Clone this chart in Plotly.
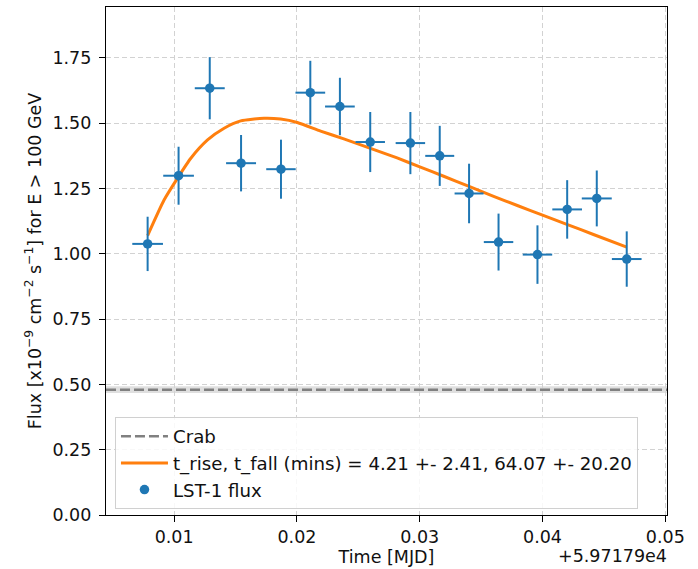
import plotly.graph_objects as go

# LST-1 light curve, times relative to MJD 59717.9
MJD_OFFSET_LABEL = "+5.97179e4"
t_rel = [0.00784, 0.01036, 0.01290, 0.01545, 0.01870, 0.02109, 0.02350, 0.02597,
         0.02924, 0.03163, 0.03402, 0.03642, 0.03959, 0.04201, 0.04442, 0.04686]
t_err = [0.00125, 0.00125, 0.00122, 0.00122, 0.00120, 0.00121, 0.00121, 0.00120,
         0.00120, 0.00118, 0.00118, 0.00120, 0.00120, 0.00121, 0.00122, 0.00121]
flux = [1.038, 1.299, 1.634, 1.347, 1.324, 1.617, 1.564, 1.428,
        1.424, 1.375, 1.231, 1.045, 0.997, 1.170, 1.212, 0.980]
flux_err = [0.104, 0.111, 0.119, 0.108, 0.113, 0.122, 0.110, 0.115,
            0.119, 0.115, 0.114, 0.109, 0.112, 0.112, 0.107, 0.106]

# rise/fall fit curve
fit_t = [0.00784, 0.00919, 0.01028, 0.01136, 0.01272, 0.01407, 0.01542, 0.01732,
         0.01867, 0.02003, 0.02193, 0.02382, 0.02599, 0.02816, 0.03006, 0.03195,
         0.03412, 0.03602, 0.03800, 0.03995, 0.04198, 0.04415, 0.04686]
fit_flux = [1.070, 1.207, 1.290, 1.366, 1.436, 1.481, 1.509, 1.519,
            1.516, 1.503, 1.470, 1.440, 1.404, 1.367, 1.332, 1.297,
            1.256, 1.220, 1.184, 1.149, 1.113, 1.074, 1.026]
fit_label = "t_rise, t_fall (mins) = 4.21 +- 2.41, 64.07 +- 20.20"

# Crab reference flux
crab_flux = 0.48
crab_err = 0.0128

x_range = [0.00445, 0.05014]
y_range = [0.0, 1.945]
x_ticks = [0.01, 0.02, 0.03, 0.04, 0.05]
y_ticks = [0.0, 0.25, 0.5, 0.75, 1.0, 1.25, 1.5, 1.75]

BLUE = "#1f77b4"
ORANGE = "#ff7f0e"
FONT = "DejaVu Sans"
FS = 17.5
LEG_FS = 18.2
TXT = "#111111"

fig = go.Figure()

fig.add_trace(go.Scatter(
    x=x_range, y=[crab_flux, crab_flux], mode="lines",
    line=dict(color="#808080", width=2.5, dash="10px,4px"),
    name="Crab", legendgroup="a", hoverinfo="skip",
))
fig.add_trace(go.Scatter(
    x=fit_t, y=fit_flux, mode="lines",
    line=dict(color=ORANGE, width=3, shape="spline", smoothing=0.6),
    name=fit_label, legendgroup="b",
))
fig.add_trace(go.Scatter(
    x=t_rel, y=flux, mode="markers",
    marker=dict(color=BLUE, size=9.5),
    error_y=dict(type="data", array=flux_err, color=BLUE, thickness=2, width=0),
    error_x=dict(type="data", array=t_err, color=BLUE, thickness=2, width=0),
    name="LST-1 flux", legendgroup="c",
))

fig.add_shape(
    type="rect", xref="x domain", x0=0, x1=1, yref="y",
    y0=crab_flux - crab_err, y1=crab_flux + crab_err,
    fillcolor="rgba(128,128,128,0.25)", line=dict(width=0), layer="below",
)

fig.add_annotation(
    text=MJD_OFFSET_LABEL, xref="paper", yref="paper", x=1.003, y=-0.058,
    xanchor="right", yanchor="top", showarrow=False,
    font=dict(family=FONT, size=FS, color=TXT),
)

axis_common = dict(
    showline=True, linecolor="black", linewidth=1.3, mirror=True,
    ticks="outside", ticklen=6, tickwidth=1.2, tickcolor="black",
    showgrid=True, gridcolor="#d2d2d2", griddash="5px,3px", gridwidth=1,
    zeroline=False, tickfont=dict(family=FONT, size=FS, color=TXT),
)

fig.update_xaxes(
    range=x_range, tickvals=x_ticks, ticktext=[f"{v:.2f}" for v in x_ticks],
    title=dict(text="Time [MJD]", font=dict(family=FONT, size=FS, color=TXT), standoff=2),
    **axis_common,
)
fig.update_yaxes(
    range=y_range, tickvals=y_ticks, ticktext=[f"{v:.2f}" for v in y_ticks],
    ticklabelstandoff=4,
    title=dict(
        text="Flux [x10<sup>−9</sup> cm<sup>−2</sup> s<sup>−1</sup>] for E > 100 GeV",
        font=dict(family=FONT, size=FS, color=TXT), standoff=6,
    ),
    **axis_common,
)

fig.update_layout(
    width=698, height=569,
    margin=dict(l=106, r=31, t=7, b=54),
    paper_bgcolor="white", plot_bgcolor="white",
    font=dict(family=FONT, size=FS, color=TXT),
    showlegend=True,
    legend=dict(
        x=0.016, y=0.193, xanchor="left", yanchor="top",
        bgcolor="rgba(255,255,255,0.85)", bordercolor="#d0d0d0", borderwidth=1,
        font=dict(family=FONT, size=LEG_FS, color=TXT),
        tracegroupgap=0, itemwidth=47,
    ),
)

fig.write_html("out.html")
